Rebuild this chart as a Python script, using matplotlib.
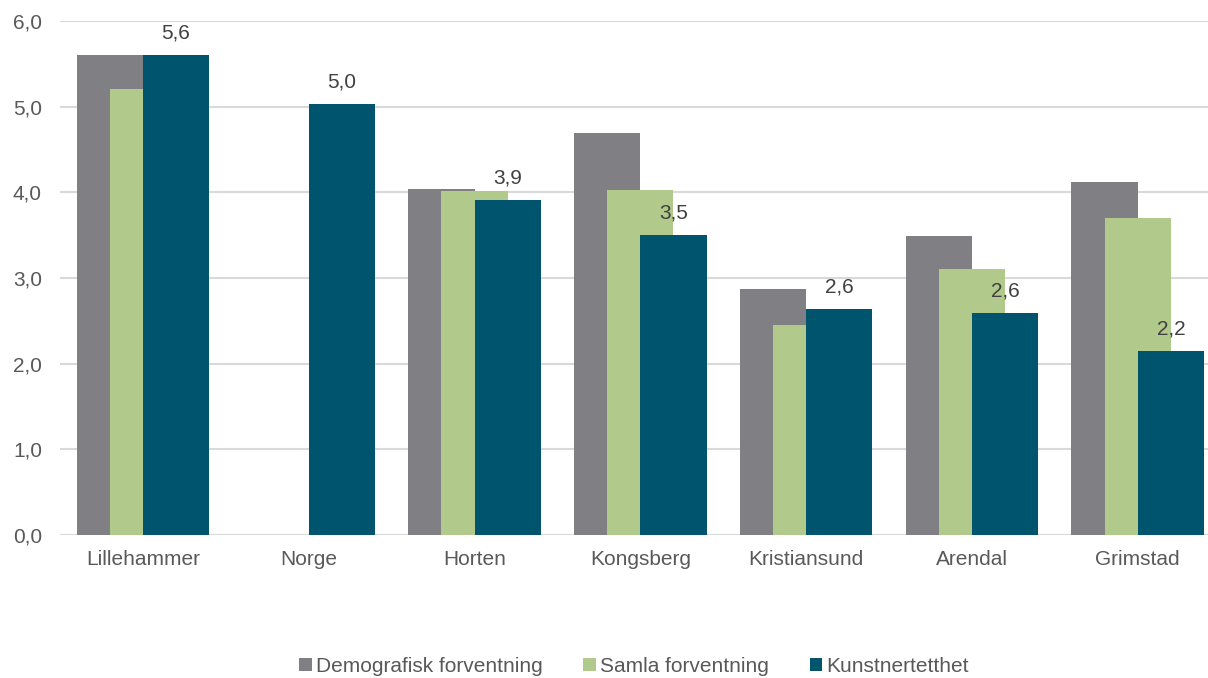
import matplotlib
matplotlib.use("Agg")
import matplotlib.pyplot as plt
import numpy as np

categories = ["Lillehammer", "Norge", "Horten", "Kongsberg", "Kristiansund", "Arendal", "Grimstad"]
demografisk = [5.60, np.nan, 4.04, 4.69, 2.87, 3.49, 4.12]
samla = [5.21, np.nan, 4.01, 4.03, 2.45, 3.10, 3.70]
kunstner = [5.60, 5.03, 3.91, 3.50, 2.64, 2.59, 2.15]
kunstner_labels = ["5,6", "5,0", "3,9", "3,5", "2,6", "2,6", "2,2"]
series_names = ["Demografisk forventning", "Samla forventning", "Kunstnertetthet"]
yticks = [0, 1, 2, 3, 4, 5, 6]
ytick_labels = ["0,0", "1,0", "2,0", "3,0", "4,0", "5,0", "6,0"]

colors = ["#807f84", "#b2c98c", "#00546e"]

plt.rcParams['font.family'] = ['Liberation Sans', 'DejaVu Sans']

W, H = 1208, 678
fig = plt.figure(figsize=(W / 100, H / 100), dpi=100)
left, right, top, bottom = 60, 1208, 21, 535
ax = fig.add_axes([left / W, (H - bottom) / H, (right - left) / W, (bottom - top) / H])

x = np.arange(len(categories))
width = 0.4
offsets = [-0.2, 0.0, 0.2]
for vals, off, col, name in zip([demografisk, samla, kunstner], offsets, colors, series_names):
    ax.bar(x + off, vals, width=width, color=col, label=name, zorder=3, linewidth=0)

for xi, v, lab in zip(x, kunstner, kunstner_labels):
    ax.annotate(lab, (xi + 0.2, v), xytext=(0, 9), textcoords="offset points",
                ha="center", va="bottom", fontsize=15, color="#404040", zorder=4)

ax.set_xlim(-0.5, (right - left) / 165.8 - 0.5)
ax.set_ylim(0, 6)
ax.set_yticks(yticks)
ax.set_yticklabels(ytick_labels)
ax.set_xticks(x)
ax.set_xticklabels(categories)
ax.tick_params(axis="both", length=0, labelsize=15, colors="#595959")
ax.tick_params(axis="x", pad=11)
ax.tick_params(axis="y", pad=13)
ax.grid(axis="y", color="#d9d9d9", linewidth=1.5, zorder=0)
for s in ax.spines.values():
    s.set_visible(False)

leg = fig.legend(loc="center", bbox_to_anchor=(634 / W, (H - 666) / H), ncol=3, frameon=False,
                 fontsize=15, handlelength=0.6, handleheight=0.6, handletextpad=0.2,
                 columnspacing=1.95, labelcolor="#595959")

fig.savefig("out.png", dpi=100)
